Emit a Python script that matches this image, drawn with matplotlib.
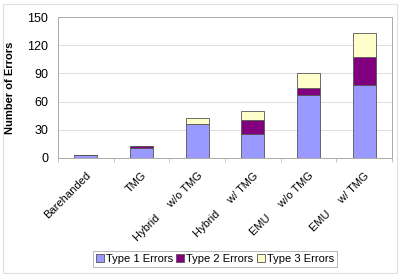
import numpy as np
import matplotlib
matplotlib.use('Agg')
import matplotlib.pyplot as plt
from matplotlib.patches import Rectangle

plt.rcParams['font.family'] = ['Liberation Sans', 'DejaVu Sans']

# data
conditions = ['Barehanded', 'TMG', 'Hybrid     w/o TMG', 'Hybrid     w/ TMG',
              'EMU     w/o TMG', 'EMU     w/ TMG']
type1 = [3, 10, 36, 25, 67, 78]
type2 = [0, 3, 0, 15, 7, 30]
type3 = [0, 0, 6, 10, 16, 25]
series_names = ['Type 1 Errors', 'Type 2 Errors', 'Type 3 Errors']
colors = ['#9999FF', '#800080', '#FFFFCC']
yticks = [0, 30, 60, 90, 120, 150]

fig = plt.figure(figsize=(4.0, 2.76), dpi=100)
ax = fig.add_axes([0.145, 0.428, 0.835, 0.51])

x = np.arange(len(conditions))
bottom = np.zeros(len(conditions))
for vals, name, c in zip([type1, type2, type3], series_names, colors):
    ax.bar(x, vals, width=0.41, bottom=bottom, color=c, edgecolor='#555555',
           linewidth=0.6, label=name, zorder=3)
    bottom += np.array(vals)

ax.set_xlim(-0.5, len(conditions) - 0.5)
ax.set_ylim(0, 150)
ax.set_yticks(yticks)
ax.tick_params(axis='y', length=0, labelsize=9, pad=7)
ax.yaxis.grid(True, color='#dddddd', linewidth=0.7, zorder=0)
ax.set_ylabel('Number of Errors', fontsize=8, fontweight='bold', labelpad=9)

ax.set_xticks(x)
ax.set_xticklabels(conditions, rotation=45, ha='right', rotation_mode='anchor',
                   fontsize=8)
ax.tick_params(axis='x', length=0, pad=9)
ax.set_xticks(np.arange(len(conditions) + 1) - 0.5, minor=True)
ax.tick_params(axis='x', which='minor', length=3, color='#bbbbbb', direction='out')

for s in ax.spines.values():
    s.set_color('#aaaaaa')
    s.set_linewidth(0.7)

leg = ax.legend(loc='upper center', bbox_to_anchor=(0.47, -0.62), ncol=3,
                fontsize=8, frameon=True, fancybox=False, edgecolor='#999999',
                handlelength=0.7, handleheight=0.7, handletextpad=0.2,
                columnspacing=0.3, borderpad=0.3)
leg.get_frame().set_linewidth(0.6)

fig.patches.append(Rectangle((0.008, 0.012), 0.984, 0.975, transform=fig.transFigure,
                             fill=False, edgecolor='#e0e0e0', linewidth=0.8))

fig.savefig('out.png', dpi=100)
